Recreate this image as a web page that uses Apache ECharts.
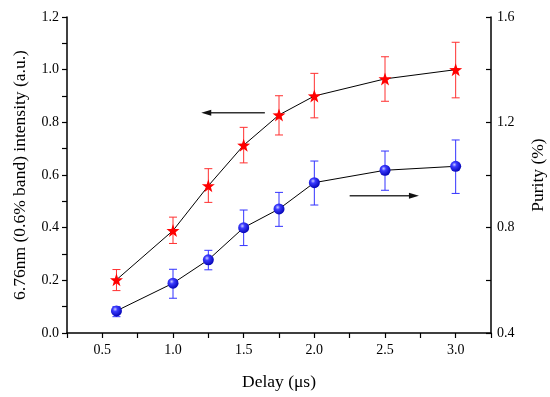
<!DOCTYPE html>
<html><head><meta charset="utf-8">
<script src="https://cdn.jsdelivr.net/npm/echarts@6/dist/echarts.min.js"></script>
<style>html,body{margin:0;padding:0;background:#fff}#c{width:550px;height:397px}</style>
</head><body><div id="c"></div>
<script>
var delays = [0.6, 1.0, 1.25, 1.5, 1.75, 2.0, 2.5, 3.0];
var intensity = [0.202, 0.389, 0.559, 0.713, 0.828, 0.900, 0.965, 1.000];
var intensityLow = [0.161, 0.340, 0.496, 0.646, 0.752, 0.817, 0.880, 0.893];
var intensityHigh = [0.241, 0.440, 0.624, 0.781, 0.901, 0.986, 1.049, 1.104];
var purity = [0.484, 0.589, 0.678, 0.800, 0.871, 0.971, 1.018, 1.033];
var purityLow = [0.462, 0.532, 0.640, 0.732, 0.805, 0.886, 0.942, 0.930];
var purityHigh = [0.500, 0.642, 0.714, 0.867, 0.934, 1.053, 1.091, 1.133];
var arrowLeft = [[1.65, 0.836], [1.2, 0.836]];
var arrowRight = [[2.25, 0.921], [2.74, 0.921]];

var chart = echarts.init(document.getElementById('c'));
var font = '"Liberation Serif","Times New Roman",serif';
var star = 'path://M0,-10 L2.35,-3.24 L9.51,-3.09 L3.80,1.24 L5.88,8.09 L0,4 L-5.88,8.09 L-3.80,1.24 L-9.51,-3.09 L-2.35,-3.24 Z';

function errData(lo, hi) {
  return delays.map(function (d, i) { return [d, lo[i], hi[i]]; });
}
function errRender(color) {
  return function (params, api) {
    var x = api.value(0);
    var p1 = api.coord([x, api.value(1)]);
    var p2 = api.coord([x, api.value(2)]);
    var w = 4;
    var st = { stroke: color, lineWidth: 1 };
    return { type: 'group', children: [
      { type: 'line', shape: { x1: p1[0], y1: p1[1], x2: p2[0], y2: p2[1] }, style: st },
      { type: 'line', shape: { x1: p1[0] - w, y1: p1[1], x2: p1[0] + w, y2: p1[1] }, style: st },
      { type: 'line', shape: { x1: p2[0] - w, y1: p2[1], x2: p2[0] + w, y2: p2[1] }, style: st }
    ]};
  };
}
function arrowRender(params, api) {
  var a = api.coord([api.value(0), api.value(1)]);
  var b = api.coord([api.value(2), api.value(3)]);
  var dir = b[0] > a[0] ? 1 : -1;
  var hl = 10, hw = 3;
  return { type: 'group', children: [
    { type: 'line', shape: { x1: a[0], y1: a[1], x2: b[0] - dir * hl * 0.8, y2: b[1] }, style: { stroke: '#333', lineWidth: 1.5 } },
    { type: 'polygon', shape: { points: [[b[0], b[1]], [b[0] - dir * hl, b[1] - hw], [b[0] - dir * hl, b[1] + hw]] }, style: { fill: '#111' } }
  ]};
}

var option = {
  animation: false,
  grid: { left: 67, right: 59, top: 17, bottom: 64, containLabel: false, outerBoundsMode: 'none' },
  xAxis: {
    type: 'value', min: 0.25, max: 3.25, interval: 0.25,
    name: 'Delay (μs)', nameLocation: 'middle', nameGap: 40,
    nameTextStyle: { fontFamily: font, fontSize: 17.5, color: '#000' },
    axisLine: { lineStyle: { color: '#000', width: 1.5 } },
    axisTick: { length: 5, lineStyle: { color: '#000', width: 1.2 } },
    axisLabel: { fontFamily: font, fontSize: 14, color: '#000', margin: 10,
      formatter: function (v) { return Math.abs(v * 2 - Math.round(v * 2)) < 1e-6 ? v.toFixed(1) : ''; } },
    splitLine: { show: false }
  },
  yAxis: [{
    type: 'value', min: 0, max: 1.2, interval: 0.1, position: 'left',
    name: '6.76nm (0.6% band) intensity (a.u.)', nameLocation: 'middle', nameGap: 38,
    nameTextStyle: { fontFamily: font, fontSize: 17.5, color: '#000' },
    axisLine: { show: true, lineStyle: { color: '#000', width: 1.5 } },
    axisTick: { show: true, length: 5, lineStyle: { color: '#000', width: 1.2 } },
    axisLabel: { fontFamily: font, fontSize: 14, color: '#000', margin: 8,
      formatter: function (v) { var k = Math.round(v * 10); return k % 2 === 0 ? v.toFixed(1) : ''; } },
    splitLine: { show: false }
  }, {
    type: 'value', min: 0.4, max: 1.6, interval: 0.2, position: 'right',
    name: 'Purity (%)', nameLocation: 'middle', nameGap: 38,
    nameTextStyle: { fontFamily: font, fontSize: 17.5, color: '#000' },
    axisLine: { show: true, lineStyle: { color: '#000', width: 1.5 } },
    axisTick: { show: true, inside: true, length: 5, lineStyle: { color: '#000', width: 1.2 } },
    axisLabel: { fontFamily: font, fontSize: 14, color: '#000', margin: 6,
      formatter: function (v) { var k = Math.round(v * 10); return k % 4 === 0 ? v.toFixed(1) : ''; } },
    splitLine: { show: false }
  }],
  series: [
    { type: 'custom', yAxisIndex: 0, z: 1, renderItem: errRender('#ff3030'), data: errData(intensityLow, intensityHigh), encode: { x: 0, y: [1, 2] } },
    { type: 'custom', yAxisIndex: 1, z: 1, renderItem: errRender('#3333ff'), data: errData(purityLow, purityHigh), encode: { x: 0, y: [1, 2] } },
    { type: 'line', yAxisIndex: 0, z: 3, data: delays.map(function (d, i) { return [d, intensity[i]]; }),
      lineStyle: { color: '#000', width: 1 }, symbol: star, symbolSize: 13, showAllSymbol: true,
      itemStyle: { color: '#ff0000', borderWidth: 0 } },
    { type: 'line', yAxisIndex: 1, z: 3, data: delays.map(function (d, i) { return [d, purity[i]]; }),
      lineStyle: { color: '#000', width: 1 }, symbol: 'circle', symbolSize: 11, showAllSymbol: true,
      itemStyle: { color: new echarts.graphic.RadialGradient(0.38, 0.35, 0.7, [
        { offset: 0, color: '#ccccff' }, { offset: 0.3, color: '#3b3bff' }, { offset: 1, color: '#0000b0' }]), borderWidth: 0 } },
    { type: 'custom', yAxisIndex: 0, z: 2, renderItem: arrowRender,
      data: [[arrowLeft[0][0], arrowLeft[0][1], arrowLeft[1][0], arrowLeft[1][1]]], encode: { x: [0, 2], y: [1, 3] } },
    { type: 'custom', yAxisIndex: 1, z: 2, renderItem: arrowRender,
      data: [[arrowRight[0][0], arrowRight[0][1], arrowRight[1][0], arrowRight[1][1]]], encode: { x: [0, 2], y: [1, 3] } }
  ]
};
chart.setOption(option);
</script>
</body></html>
